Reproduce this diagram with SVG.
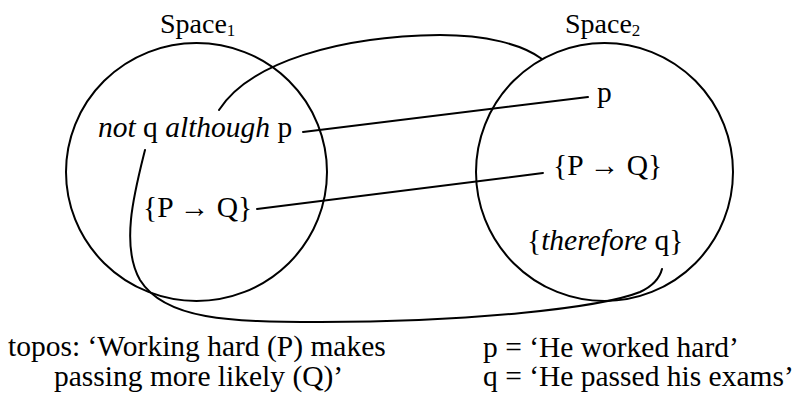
<svg xmlns="http://www.w3.org/2000/svg" width="801" height="396" viewBox="0 0 801 396">
<style>
text{font-family:Times New Roman,Liberation Serif,serif;font-size:29.5px;fill:#000}
.lbl{font-size:28px}
.i{font-style:italic}
.sub{font-size:17px}
.shape{fill:none;stroke:#000;stroke-width:2}
.conn{fill:none;stroke:#000;stroke-width:2;stroke-linecap:round}
</style>
<rect width="801" height="396" fill="#fff"/>
<g id="space1">
<ellipse class="shape" cx="196.5" cy="172" rx="130.5" ry="129"/>
<text class="lbl" x="160" y="33" font-family="Times New Roman">Space<tspan class="sub" dy="3">1</tspan></text>
</g>
<g id="space2">
<ellipse class="shape" cx="604.5" cy="172" rx="128.5" ry="129"/>
<text class="lbl" x="565" y="33" font-family="Times New Roman">Space<tspan class="sub" dy="3">2</tspan></text>
</g>
<g id="not-q-although-p">
<text x="98" y="137" font-family="Times New Roman"><tspan class="i">not</tspan> q <tspan class="i">although</tspan> p</text>
</g>
<g id="pq-1">
<text x="143" y="217" font-family="Times New Roman">{P → Q}</text>
</g>
<g id="p-2">
<text x="597" y="102" font-family="Times New Roman">p</text>
</g>
<g id="pq-2">
<text x="553" y="175" font-family="Times New Roman">{P → Q}</text>
</g>
<g id="therefore-q">
<text x="527" y="250" font-family="Times New Roman">{<tspan class="i">therefore</tspan> q}</text>
</g>
<g id="connectors">
<path class="conn" d="M303,132 L588,97"/>
<path class="conn" d="M257,209 L543,173"/>
<path class="conn" d="M219,110 C250,62 340,36 440,35 C485,35 522,44 542,59"/>
<path class="conn" d="M145,150 C135,190 120,245 140,280 C165,320 230,322 320,322 C470,322 600,308 640,292 C655,285 660,277 662,269"/>
</g>
<g id="legend">
<text x="8" y="356" font-family="Times New Roman">topos: ‘Working hard (P) makes</text>
<text x="54" y="386" font-family="Times New Roman">passing more likely (Q)’</text>
<text x="483" y="357" font-family="Times New Roman">p = ‘He worked hard’</text>
<text x="483" y="386" font-family="Times New Roman">q = ‘He passed his exams’</text>
</g>
</svg>
